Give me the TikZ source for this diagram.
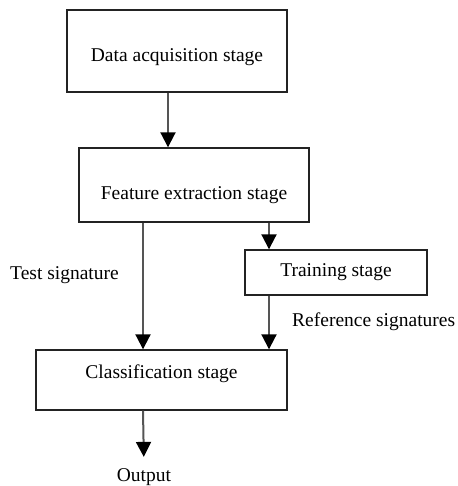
\documentclass[tikz,border=0pt]{standalone}
\usepackage{fontspec}
\setmainfont{Liberation Serif}
\usetikzlibrary{arrows.meta,calc}
\definecolor{FrameClr}{RGB}{35,35,35}
\definecolor{ShaftClr}{RGB}{85,85,85}

\begin{document}
\begin{tikzpicture}[x=1pt,y=-1pt,
  stagebox/.style={draw=FrameClr,line width=1.4pt,inner sep=0pt,text depth=5pt,
    font=\fontsize{19.5}{23}\selectfont},
  flow/.style={draw=ShaftClr,line width=2pt,
    -{Triangle[width=15pt,length=15pt,color=black]}},
  note/.style={inner sep=0pt,font=\fontsize{19.5}{23}\selectfont}]
\useasboundingbox (0,0) rectangle (457,486);

% columns of the arrows
\coordinate (colA) at (168,0);
\coordinate (colL) at (143,0);
\coordinate (colR) at (269,0);

\node[stagebox,minimum width=220pt,minimum height=82pt,text height=27pt]
  (acq) at (177,51) {Data acquisition stage\hspace{11pt}};
\node[stagebox,minimum width=230pt,minimum height=74pt,text height=33pt]
  (fex) at (194,185) {Feature extraction stage\hspace{6pt}};
\node[stagebox,minimum width=182pt,minimum height=45pt,text height=12pt]
  (trn) at (336,272.5) {Training stage\hspace{32pt}};
\node[stagebox,minimum width=251pt,minimum height=60pt,text height=5pt,text depth=9pt]
  (cls) at (161.5,380) {Classification stage\hspace{20pt}};

\node[note,anchor=base west] (tst) at (10,279) {Test signature};
\node[note,anchor=base west] (ref) at (292,326) {Reference signatures};
\node[note,anchor=base] (out) at (144,481) {Output};

\draw[flow] (acq.south -| colA) -- (fex.north -| colA);
\draw[flow] (fex.south -| colL) -- (cls.north -| colL);
\draw[flow] (fex.south -| colR) -- (trn.north -| colR);
\draw[flow] (trn.south -| colR) -- (cls.north -| colR);
\draw[flow,shorten >=11pt] (cls.south -| colL) -- (out.north);

\end{tikzpicture}
\end{document}
